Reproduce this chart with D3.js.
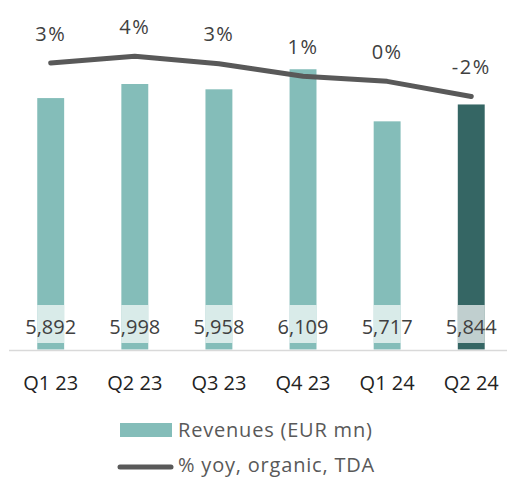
<!DOCTYPE html>
<html>
<head>
<meta charset="utf-8">
<script src="https://cdn.jsdelivr.net/npm/d3@7"></script>
<style>
  html, body { margin: 0; padding: 0; background: #fff; }
  svg { display: block; font-family: "Open Sans", Lato, sans-serif; }
</style>
</head>
<body>
<div id="chart"></div>
<script>
// data
var quarters = ["Q1 23", "Q2 23", "Q3 23", "Q4 23", "Q1 24", "Q2 24"];
var revenues = [5892, 5998, 5958, 6109, 5717, 5844];
var organicGrowth = [3.0, 4.1, 2.9, 0.9, 0.1, -2.3];
var growthLabels = ["3%", "4%", "3%", "1%", "0%", "-2%"];

var width = 507, height = 478;
var baseY = 349.5;

var svg = d3.select("#chart").append("svg")
    .attr("width", width)
    .attr("height", height);

var x = d3.scaleBand()
    .domain(quarters)
    .range([8.65, 513.3])
    .paddingInner(0.68)
    .paddingOuter(0.34);

// revenue axis does not start at zero
var y = d3.scaleLinear()
    .domain([4000, 6600])
    .range([baseY, 4]);

// growth on a second scale
var y2 = d3.scaleLinear()
    .domain([0, 4])
    .range([82, 56.8]);

var formatRev = d3.format(",.0f");

// bars
var bar = svg.append("g").selectAll(".bar")
    .data(revenues)
    .enter().append("g")
    .attr("class", "bar");

bar.append("rect")
    .attr("x", function(d, i) { return x(quarters[i]); })
    .attr("y", function(d) { return y(d); })
    .attr("width", x.bandwidth())
    .attr("height", function(d) { return baseY - y(d); })
    .attr("fill", function(d, i) { return i === revenues.length - 1 ? "#356664" : "#84bdb9"; });

// pale band behind the value labels
bar.append("rect")
    .attr("x", function(d, i) { return x(quarters[i]); })
    .attr("y", 305)
    .attr("width", x.bandwidth())
    .attr("height", 38)
    .attr("fill", "#fff")
    .attr("fill-opacity", 0.69);

bar.append("text")
    .attr("x", function(d, i) { return x(quarters[i]) + x.bandwidth() / 2; })
    .attr("y", 327)
    .attr("dy", "0.35em")
    .attr("text-anchor", "middle")
    .attr("fill", "#404040")
    .style("font-size", "20px")
    .text(function(d) { return formatRev(d); });

// baseline
svg.append("line")
    .attr("x1", 9).attr("x2", width)
    .attr("y1", baseY + 1).attr("y2", baseY + 1)
    .attr("stroke", "#d9d9d9")
    .attr("stroke-width", 1.5);

// category labels
svg.append("g").selectAll("text")
    .data(quarters)
    .enter().append("text")
    .attr("x", function(d) { return x(d) + x.bandwidth() / 2; })
    .attr("y", 383)
    .attr("dy", "0.35em")
    .attr("text-anchor", "middle")
    .attr("fill", "#222")
    .style("font-size", "20px")
    .text(function(d) { return d; });

// growth line
var line = d3.line()
    .x(function(d, i) { return x(quarters[i]) + x.bandwidth() / 2; })
    .y(function(d) { return y2(d); });

svg.append("path")
    .datum(organicGrowth)
    .attr("d", line)
    .attr("fill", "none")
    .attr("stroke", "#595959")
    .attr("stroke-width", 5)
    .attr("stroke-linecap", "round")
    .attr("stroke-linejoin", "round");

svg.append("g").selectAll("text")
    .data(organicGrowth)
    .enter().append("text")
    .attr("x", function(d, i) { return x(quarters[i]) + x.bandwidth() / 2; })
    .attr("y", function(d) { return y2(d) - 29.5; })
    .attr("dy", "0.35em")
    .attr("text-anchor", "middle")
    .attr("fill", "#404040")
    .style("font-size", "20px")
    .style("letter-spacing", "1.5px")
    .text(function(d, i) { return growthLabels[i]; });

// legend
var legend = svg.append("g");

legend.append("rect")
    .attr("x", 120).attr("y", 423)
    .attr("width", 52).attr("height", 14)
    .attr("fill", "#84bdb9");

legend.append("text")
    .attr("x", 178).attr("y", 430)
    .attr("dy", "0.35em")
    .attr("fill", "#595959")
    .style("font-size", "20px")
    .style("letter-spacing", "0.8px")
    .text("Revenues (EUR mn)");

legend.append("line")
    .attr("x1", 120).attr("x2", 171)
    .attr("y1", 467).attr("y2", 467)
    .attr("stroke", "#595959")
    .attr("stroke-width", 5)
    .attr("stroke-linecap", "round");

legend.append("text")
    .attr("x", 178).attr("y", 464.5)
    .attr("dy", "0.35em")
    .attr("fill", "#595959")
    .style("font-size", "20px")
    .style("letter-spacing", "0.8px")
    .text("% yoy, organic, TDA");
</script>
</body>
</html>
